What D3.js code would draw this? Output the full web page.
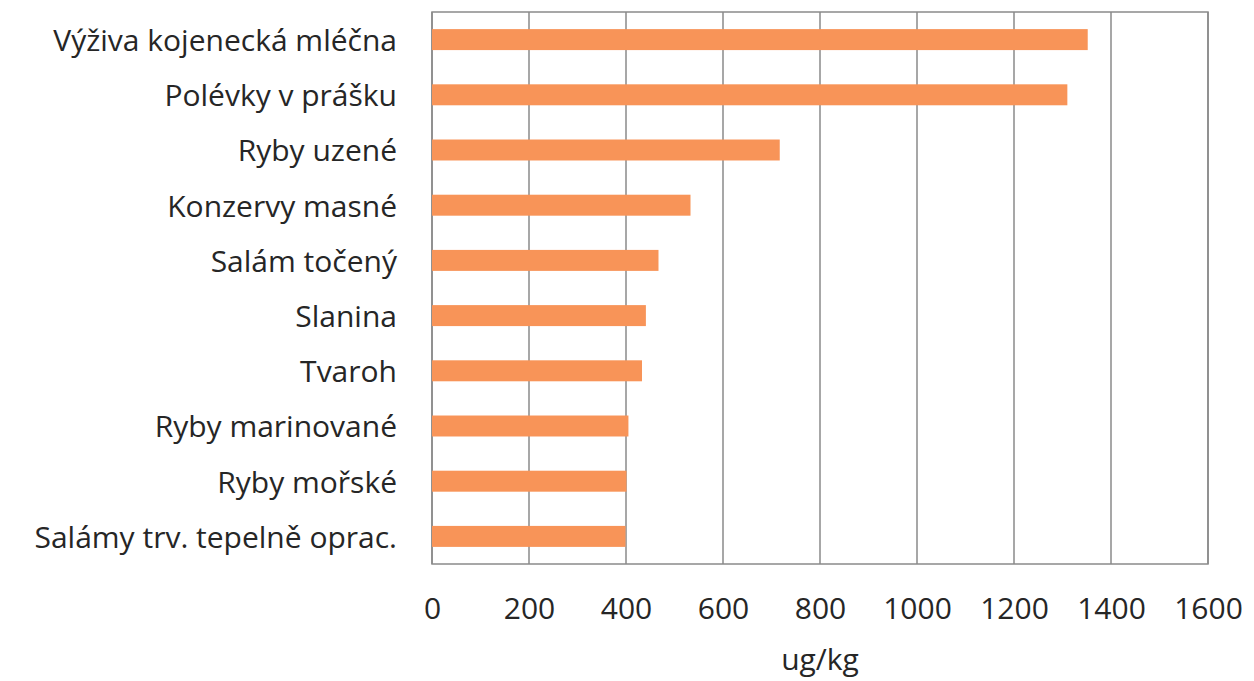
<!DOCTYPE html>
<html>
<head>
<meta charset="utf-8">
<script src="https://cdn.jsdelivr.net/npm/d3@7"></script>
<style>
  html, body { margin: 0; padding: 0; background: #fff; }
  svg { display: block; }
  text { font-family: "Open Sans", Lato, sans-serif; fill: #262626; }
</style>
</head>
<body>
<svg id="chart" width="1254" height="681"></svg>
<script>
// Food categories, top to bottom
const categories = [
  "Výživa kojenecká mléčna",
  "Polévky v prášku",
  "Ryby uzené",
  "Konzervy masné",
  "Salám točený",
  "Slanina",
  "Tvaroh",
  "Ryby marinované",
  "Ryby mořské",
  "Salámy trv. tepelně oprac."
];
// Concentration per category (ug/kg)
const values = [1352, 1310, 717, 533, 467, 441, 433, 405, 401, 399];
const xTicks = [0, 200, 400, 600, 800, 1000, 1200, 1400, 1600];
const xTitle = "ug/kg";

const svg = d3.select("#chart");
const margin = { left: 432, right: 46, top: 12, bottom: 117 };
const W = 1254, H = 681;
const plotW = W - margin.left - margin.right;
const plotH = H - margin.top - margin.bottom;
const fontFamily = "'Open Sans', Lato, sans-serif";
const fontSize = "30px";
const textColor = "#262626";

const x = d3.scaleLinear().domain([0, 1600]).range([margin.left, margin.left + plotW]);
const y = d3.scaleBand().domain(categories)
  .range([margin.top, margin.top + plotH])
  .paddingInner(0.62).paddingOuter(0.31);

const gridColor = "#8a8a8a";

// vertical gridlines
svg.append("g")
  .selectAll("line")
  .data(xTicks)
  .join("line")
  .attr("x1", d => x(d)).attr("x2", d => x(d))
  .attr("y1", margin.top).attr("y2", margin.top + plotH)
  .attr("stroke", gridColor).attr("stroke-width", 1.5);

// plot frame
svg.append("rect")
  .attr("x", margin.left).attr("y", margin.top)
  .attr("width", plotW).attr("height", plotH)
  .attr("fill", "none").attr("stroke", gridColor).attr("stroke-width", 1.5);

// bars
svg.append("g")
  .selectAll("rect")
  .data(values)
  .join("rect")
  .attr("x", x(0))
  .attr("y", (d, i) => y(categories[i]))
  .attr("width", d => x(d) - x(0))
  .attr("height", y.bandwidth())
  .attr("fill", "#f89458");

// x axis tick labels
const xAxis = d3.axisBottom(x).tickValues(xTicks).tickFormat(d3.format("d"))
  .tickSize(0).tickPadding(34);
const gx = svg.append("g")
  .attr("transform", `translate(0,${margin.top + plotH})`)
  .call(xAxis);
gx.select(".domain").remove();
gx.selectAll("text")
  .style("font-family", fontFamily)
  .style("font-size", fontSize)
  .attr("fill", textColor);

// y axis category labels
const yAxis = d3.axisLeft(y).tickSize(0).tickPadding(35);
const gy = svg.append("g")
  .attr("transform", `translate(${margin.left},0)`)
  .call(yAxis);
gy.select(".domain").remove();
gy.selectAll("text")
  .style("font-family", fontFamily)
  .style("font-size", fontSize)
  .attr("fill", textColor)
  .attr("dy", "0.38em");

// axis title
svg.append("text")
  .attr("x", x(800))
  .attr("y", 670)
  .attr("text-anchor", "middle")
  .style("font-family", fontFamily)
  .style("font-size", fontSize)
  .text(xTitle);
</script>
</body>
</html>
